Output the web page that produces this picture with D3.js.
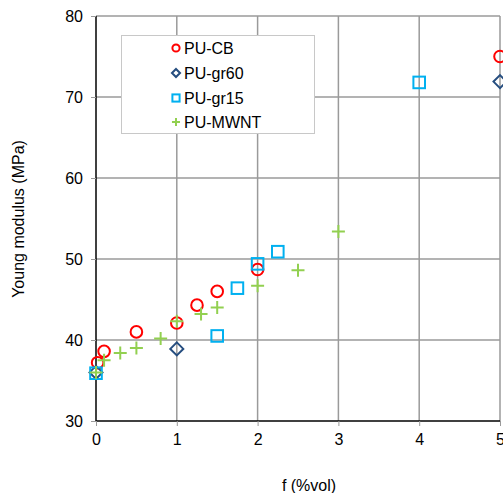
<!DOCTYPE html>
<html>
<head>
<meta charset="utf-8">
<script src="https://cdn.jsdelivr.net/npm/d3@7"></script>
<style>
  body { margin: 0; background: #fff; }
  text { font-family: "Liberation Sans", Arial, sans-serif; }
</style>
</head>
<body>
<div id="canvas"></div>
<script>
// data
const cbX = [0.02, 0.1, 0.5, 1.0, 1.25, 1.5, 2.0, 5.0];
const cbY = [37.2, 38.6, 41.0, 42.1, 44.3, 46.0, 48.7, 75.0];
const gr60X = [0, 1.0, 5.0];
const gr60Y = [36.0, 38.9, 71.9];
const gr15X = [0, 1.5, 1.75, 2.0, 2.25, 4.0];
const gr15Y = [35.9, 40.5, 46.4, 49.4, 50.9, 71.8];
const mwntX = [0, 0.1, 0.3, 0.5, 0.8, 1.0, 1.3, 1.5, 2.0, 2.5, 3.0];
const mwntY = [36.0, 37.5, 38.4, 39.0, 40.2, 42.3, 43.2, 44.0, 46.7, 48.6, 53.4];
const xTicks = [0, 1, 2, 3, 4, 5];
const yTicks = [30, 40, 50, 60, 70, 80];
const seriesNames = ["PU-CB", "PU-gr60", "PU-gr15", "PU-MWNT"];

const width = 503;
const height = 493;
const margin = { top: 16, left: 96, bottom: 72, right: 3 };

const svg = d3.select("#canvas").append("svg")
    .attr("width", width)
    .attr("height", height);

const g = svg.append("g").attr("transform", `translate(${margin.left},${margin.top})`);

const x = d3.scaleLinear().domain([0, 5]).range([0, 404]);
const y = d3.scaleLinear().domain([30, 80]).range([405, 0]);

// gridlines
g.selectAll(".vgrid").data(xTicks.slice(1)).enter().append("line")
    .attr("x1", d => x(d)).attr("x2", d => x(d))
    .attr("y1", 0).attr("y2", y(30))
    .attr("stroke", "#9a9a9a").attr("stroke-width", 1.5);
g.selectAll(".hgrid").data(yTicks.slice(1)).enter().append("line")
    .attr("x1", 0).attr("x2", x(5))
    .attr("y1", d => y(d)).attr("y2", d => y(d))
    .attr("stroke", "#9a9a9a").attr("stroke-width", 1.5);

// axes
const xAxis = g.append("g")
    .attr("transform", `translate(0,${y(30)})`)
    .call(d3.axisBottom(x).tickValues(xTicks).tickSize(5).tickPadding(8).tickFormat(d3.format("d")));
const yAxis = g.append("g")
    .call(d3.axisLeft(y).tickValues(yTicks).tickSize(5).tickPadding(8));
[xAxis, yAxis].forEach(a => {
  a.select(".domain").attr("stroke", "#000").attr("stroke-width", 1.5);
  a.selectAll(".tick line").attr("stroke", "#9a9a9a");
  a.selectAll("text").attr("font-size", 16).attr("fill", "#000")
    .style("font-family", "'Liberation Sans', Arial, sans-serif");
});
xAxis.select(".domain").attr("d", `M0,0H${x(5)}`);
yAxis.select(".domain").attr("d", `M0,0V${y(30)}`);

// axis titles
svg.append("text")
    .attr("x", 309).attr("y", 491)
    .attr("text-anchor", "middle")
    .attr("font-size", 16)
    .text("f (%vol)");
svg.append("text")
    .attr("transform", "translate(24,219) rotate(-90)")
    .attr("text-anchor", "middle")
    .attr("font-size", 16)
    .text("Young modulus (MPa)");

// legend
const legend = svg.append("g");
legend.append("rect")
    .attr("x", 121.5).attr("y", 35.5)
    .attr("width", 193).attr("height", 98)
    .attr("fill", "#fff").attr("stroke", "#c8c8c8").attr("stroke-width", 1);

// marker drawers
const drawCircle = (sel, cx, cy, s) => sel.append("circle")
    .attr("cx", cx).attr("cy", cy).attr("r", 5.8 * s)
    .attr("fill", "none").attr("stroke", "#ff0000").attr("stroke-width", 2);
const drawDiamond = (sel, cx, cy, s) => sel.append("path")
    .attr("d", `M${cx},${cy - 6.5 * s}L${cx + 6.5 * s},${cy}L${cx},${cy + 6.5 * s}L${cx - 6.5 * s},${cy}Z`)
    .attr("fill", "none").attr("stroke", "#254d7f").attr("stroke-width", 2);
const drawSquare = (sel, cx, cy, s) => sel.append("rect")
    .attr("x", cx - 5.8 * s).attr("y", cy - 5.8 * s)
    .attr("width", 11.6 * s).attr("height", 11.6 * s)
    .attr("fill", "none").attr("stroke", "#00b0f0").attr("stroke-width", 2);
const drawPlus = (sel, cx, cy, s) => sel.append("path")
    .attr("d", `M${cx - 6.5 * s},${cy}H${cx + 6.5 * s}M${cx},${cy - 6.5 * s}V${cy + 6.5 * s}`)
    .attr("fill", "none").attr("stroke", "#92d050").attr("stroke-width", 2);
const drawers = [drawCircle, drawDiamond, drawSquare, drawPlus];

const legendRows = [48, 73, 98, 122];
seriesNames.forEach((name, i) => {
  drawers[i](legend, 176, legendRows[i], 0.62);
  legend.append("text")
      .attr("x", 184).attr("y", legendRows[i] + 6)
      .attr("font-size", 16)
      .text(name);
});

// points
const series = [
  { xs: cbX, ys: cbY, draw: drawCircle },
  { xs: gr60X, ys: gr60Y, draw: drawDiamond },
  { xs: gr15X, ys: gr15Y, draw: drawSquare },
  { xs: mwntX, ys: mwntY, draw: drawPlus }
];
series.forEach(s => {
  const pg = g.append("g");
  s.xs.forEach((v, i) => s.draw(pg, x(v), y(s.ys[i]), 1));
});
</script>
</body>
</html>
